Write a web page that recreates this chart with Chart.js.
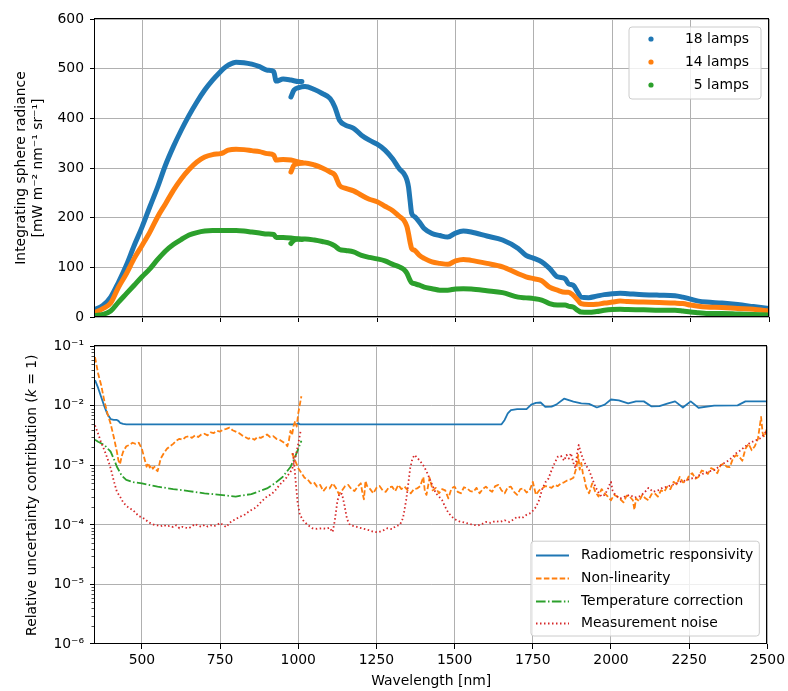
<!DOCTYPE html>
<html>
<head>
<meta charset="utf-8">
<title>Integrating sphere radiance and uncertainty budget</title>
<script src="https://cdn.jsdelivr.net/npm/chart.js@4.4.1/dist/chart.umd.min.js"></script>
<style>
  html, body { margin: 0; padding: 0; background: #fff; }
  #figure { position: relative; width: 788px; height: 691px; }
  .panel { position: absolute; left: 0; width: 788px; }
  #panelTop { top: 0; height: 332px; }
  #panelBottom { top: 332px; height: 359px; }
  canvas { display: block; }
</style>
</head>
<body>
<div id="figure">
  <div class="panel" id="panelTop"><canvas id="radianceChart" width="788" height="332"></canvas></div>
  <div class="panel" id="panelBottom"><canvas id="uncertaintyChart" width="788" height="359"></canvas></div>
</div>
<script>
/* ============================================================
   Sphere radiance for three lamp settings (top) and the
   relative uncertainty contributions (bottom), shared
   wavelength axis. VIS and SWIR detectors overlap near 1000 nm,
   so each of them is kept as its own segment.
   ============================================================ */

/* Axis ticks and labels */
var xTicks = [500, 750, 1000, 1250, 1500, 1750, 2000, 2250, 2500];
var logTicks = [1e-6, 1e-5, 1e-4, 1e-3, 1e-2, 1e-1];
var logTickLabels = ['10\u207B\u2076', '10\u207B\u2075', '10\u207B\u2074', '10\u207B\u00B3', '10\u207B\u00B2', '10\u207B\u00B9'];
var lampLabels = ['18 lamps', '14 lamps', '5 lamps'];
var contributionLabels = ['Radiometric responsivity', 'Non-linearity', 'Temperature correction', 'Measurement noise'];

/* Radiance, VIS detector [mW m-2 nm-1 sr-1] */
var visWl = [350, 375, 400, 425, 450, 475, 500, 525, 550, 575, 600, 625, 650, 675, 700,
  725, 750, 760, 775, 800, 825, 850, 875, 900, 920, 928, 950, 975, 1000, 1010];
var vis18 = [15, 23, 40, 70, 104, 144, 181, 222, 262, 306, 343, 376, 406, 433, 457,
  477, 494, 500, 507, 513, 512, 509, 504, 497, 494, 475, 479, 477, 474, 474];
var vis14 = [9, 17, 28, 60, 87, 118, 144, 171, 202, 228, 255, 278, 297, 312, 322,
  327, 329, 331, 336, 338, 337, 335, 333, 329, 326, 316, 317, 316, 312, 311];
var vis5 = [3, 5, 12, 30, 47, 64, 81, 97, 116, 133, 146, 156, 165, 170, 173,
  174, 174, 174, 174, 174, 173, 171, 169, 167, 166, 160, 160, 159, 157, 156];

/* Radiance, SWIR detector */
var swirWl = [975, 985, 1000, 1020, 1050, 1075, 1100, 1115, 1130, 1150,
  1175, 1200, 1225, 1250, 1275, 1300, 1320, 1335, 1345, 1350,
  1355, 1360, 1370, 1385, 1400, 1425, 1450, 1475, 1500, 1525,
  1550, 1600, 1650, 1700, 1725, 1750, 1775, 1800, 1825, 1850,
  1860, 1875, 1890, 1900, 1925, 1950, 1975, 2000, 2025, 2050,
  2100, 2150, 2200, 2225, 2250, 2275, 2300, 2350, 2400, 2450, 2500];
var swir18 = [443, 457, 462, 464, 458, 450, 440, 423, 396, 386,
  380, 366, 356, 348, 336, 318, 299, 289, 276, 262,
  235, 209, 202, 191, 178, 168, 164, 161, 169, 173,
  171, 163, 155, 138, 124, 118, 111, 98, 81, 77,
  67, 64, 50, 40, 39, 42, 45, 47, 48, 47,
  45, 44, 43, 40, 36, 32, 30, 28, 25, 21, 17];
var swir14 = [292, 306, 309, 310, 306, 300, 292, 286, 265, 259,
  254, 245, 237, 232, 223, 214, 203, 195, 182, 168,
  151, 138, 134, 124, 118, 111, 108, 106, 113, 116,
  114, 108, 101, 87, 81, 77, 73, 60, 54, 50,
  50, 44, 34, 27, 25, 25.5, 28, 30, 32, 31,
  30, 29, 28, 27, 24, 21.5, 20, 19, 17, 15.5, 12];
var swir5 = [148, 155, 157, 157, 155, 152, 148, 143, 136, 134,
  131, 124, 120, 117, 113, 106, 101, 96, 88, 81,
  74, 69, 67, 64, 60, 57, 54, 54, 56.5, 57,
  56.5, 53, 49, 40, 38.5, 37, 34, 27, 24, 24,
  22, 20, 13.5, 10, 9.5, 11, 13.5, 15, 15.5, 15,
  14.5, 13.5, 13.5, 12, 10, 8.5, 7, 7, 6, 5, 4];

/* Radiometric responsivity (relative, k = 1) */
var respWl = [350, 360, 370, 380, 390, 400, 410, 420, 425, 430, 440, 450, 600, 800, 995,
  1000, 1005, 1200, 1400, 1650, 1660, 1670, 1680, 1700, 1730, 1745, 1760, 1775, 1790, 1810,
  1825, 1850, 1880, 1905, 1930, 1955, 1980, 2000, 2025, 2055, 2080, 2105, 2130, 2155, 2180,
  2205, 2230, 2255, 2280, 2330, 2405, 2430, 2500];
var respVal = [0.027, 0.02, 0.014, 0.0098, 0.0072, 0.006, 0.0058, 0.0058, 0.0056, 0.0052, 0.005, 0.0049, 0.0049, 0.0049, 0.0049,
  0.0051, 0.0049, 0.0049, 0.0049, 0.0049, 0.0058, 0.0075, 0.0085, 0.0088, 0.0088, 0.0105, 0.0112, 0.0114, 0.0096, 0.0097,
  0.0105, 0.0132, 0.0118, 0.011, 0.0108, 0.0094, 0.0105, 0.0128, 0.0124, 0.011, 0.0119, 0.0119, 0.0098, 0.0099, 0.0109,
  0.0119, 0.0094, 0.0119, 0.0093, 0.0101, 0.0102, 0.0119, 0.0119];

/* Non-linearity, VIS and SWIR */
var nonlinVisWl = [350, 360, 370, 380, 390, 400, 410, 420, 425, 430,
  435, 440, 450, 460, 470, 480, 490, 500, 505, 510,
  515, 520, 525, 530, 535, 540, 545, 550, 555, 560,
  570, 580, 590, 600, 610, 620, 630, 640, 650, 660,
  670, 680, 690, 700, 710, 720, 730, 740, 750, 760,
  770, 780, 790, 800, 810, 820, 830, 840, 850, 860,
  870, 880, 890, 900, 910, 920, 930, 940, 950, 960,
  965, 970, 975, 980, 985, 990, 995, 1000, 1005, 1010];
var nonlinVisVal = [0.066, 0.035, 0.022, 0.012, 0.0074, 0.005, 0.003, 0.0017, 0.0012, 0.00105,
  0.0014, 0.0017, 0.0021, 0.0022, 0.0024, 0.0023, 0.0024, 0.0019, 0.0015, 0.0012,
  0.00095, 0.0011, 0.00092, 0.001, 0.00088, 0.00095, 0.00085, 0.0008, 0.001, 0.0013,
  0.0016, 0.0019, 0.0021, 0.0023, 0.0026, 0.0028, 0.0027, 0.003, 0.0031, 0.0029,
  0.0032, 0.003, 0.0033, 0.0034, 0.0032, 0.0036, 0.0035, 0.0038, 0.0037, 0.004,
  0.0041, 0.0043, 0.0039, 0.0037, 0.0035, 0.0032, 0.003, 0.0028, 0.0029, 0.0027,
  0.003, 0.0029, 0.0031, 0.0033, 0.003, 0.0031, 0.0028, 0.0027, 0.0025, 0.0023,
  0.0021, 0.0026, 0.0038, 0.0032, 0.0046, 0.0055, 0.0045, 0.0075, 0.0105, 0.0145];
var nonlinSwirWl = [980, 990, 1000, 1010, 1020, 1030, 1040, 1050, 1060, 1070,
  1080, 1090, 1100, 1110, 1120, 1130, 1140, 1150, 1160, 1170,
  1180, 1190, 1200, 1205, 1210, 1215, 1220, 1230, 1240, 1250,
  1260, 1270, 1280, 1290, 1300, 1310, 1320, 1330, 1340, 1350,
  1360, 1370, 1380, 1390, 1400, 1405, 1410, 1420, 1430, 1440,
  1450, 1460, 1470, 1480, 1490, 1500, 1510, 1520, 1530, 1540,
  1550, 1560, 1570, 1580, 1590, 1600, 1610, 1620, 1630, 1640,
  1650, 1660, 1670, 1680, 1690, 1700, 1710, 1720, 1730, 1740,
  1750, 1760, 1770, 1780, 1790, 1800, 1810, 1820, 1830, 1840,
  1850, 1860, 1870, 1880, 1890, 1895, 1900, 1905, 1910, 1915,
  1920, 1930, 1940, 1950, 1960, 1970, 1980, 1990, 2000, 2010,
  2020, 2030, 2040, 2050, 2060, 2070, 2075, 2080, 2090, 2100,
  2110, 2120, 2130, 2140, 2150, 2160, 2170, 2180, 2190, 2200,
  2210, 2220, 2230, 2240, 2250, 2260, 2270, 2280, 2290, 2300,
  2310, 2320, 2330, 2340, 2350, 2360, 2370, 2380, 2390, 2400,
  2410, 2420, 2430, 2440, 2450, 2460, 2470, 2480, 2485, 2490,
  2495, 2500];
var nonlinSwirVal = [0.0016, 0.0012, 0.0009, 0.00075, 0.00062, 0.00058, 0.0005, 0.00052, 0.00044, 0.00047,
  0.00037, 0.00043, 0.00041, 0.0005, 0.00042, 0.00033, 0.00038, 0.00045, 0.00047, 0.0004,
  0.00037, 0.00044, 0.0005, 0.00035, 0.00027, 0.00055, 0.00045, 0.0004, 0.00034, 0.00042,
  0.00045, 0.00038, 0.00036, 0.00043, 0.00044, 0.00037, 0.00047, 0.0004, 0.00044, 0.00038,
  0.00034, 0.0004, 0.00041, 0.00045, 0.00064, 0.00036, 0.00032, 0.00062, 0.00038, 0.00042,
  0.00034, 0.0004, 0.00038, 0.00028, 0.00041, 0.00044, 0.00036, 0.00034, 0.00043, 0.00041,
  0.00037, 0.00036, 0.00042, 0.00034, 0.0004, 0.00044, 0.00039, 0.00036, 0.00045, 0.00047,
  0.00038, 0.00034, 0.00043, 0.00044, 0.00036, 0.00032, 0.0004, 0.00041, 0.00035, 0.00038,
  0.00053, 0.00032, 0.00038, 0.00041, 0.00045, 0.00044, 0.00042, 0.00047, 0.00045, 0.0005,
  0.00052, 0.00056, 0.00058, 0.00062, 0.00094, 0.0015, 0.00085, 0.0011, 0.00074, 0.0006,
  0.00044, 0.00034, 0.0005, 0.00036, 0.0003, 0.0004, 0.00034, 0.0003, 0.00026, 0.00032,
  0.0003, 0.00027, 0.00024, 0.00031, 0.0003, 0.00026, 0.00018, 0.00028, 0.00025, 0.00032,
  0.00028, 0.00026, 0.00033, 0.00034, 0.0003, 0.00038, 0.00036, 0.00044, 0.0004, 0.00053,
  0.00048, 0.00064, 0.00052, 0.00053, 0.00068, 0.00074, 0.0006, 0.00064, 0.00082, 0.00078,
  0.00072, 0.0009, 0.00085, 0.00074, 0.001, 0.00108, 0.00095, 0.00094, 0.0013, 0.00149,
  0.0014, 0.0012, 0.0019, 0.0023, 0.0018, 0.0021, 0.0028, 0.0065, 0.0035, 0.003,
  0.0036, 0.0044];

/* Temperature correction (VIS only) */
var tempWl = [350, 360, 380, 400, 410, 420, 435, 450, 475, 500, 550, 600,
  650, 700, 750, 800, 850, 900, 925, 950, 975, 990, 1000, 1010];
var tempVal = [0.0027, 0.0025, 0.0022, 0.0017, 0.0013, 0.00095, 0.00068, 0.00057, 0.00052, 0.0005, 0.00044, 0.0004,
  0.00037, 0.00034, 0.00032, 0.0003, 0.00033, 0.00041, 0.0005, 0.00064, 0.00094, 0.0014, 0.0019, 0.0026];

/* Measurement noise, VIS and SWIR */
var noiseVisWl = [350, 360, 370, 380, 390, 400, 410, 420, 430, 440,
  450, 460, 470, 480, 490, 500, 510, 520, 530, 540,
  550, 560, 570, 580, 590, 600, 610, 620, 630, 640,
  650, 660, 670, 680, 690, 700, 710, 720, 730, 740,
  750, 760, 770, 780, 790, 800, 810, 820, 830, 840,
  850, 860, 870, 880, 890, 900, 910, 920, 930, 940,
  950, 960, 970, 980, 990, 1000, 1008];
var noiseVisVal = [0.0047, 0.0034, 0.0024, 0.0018, 0.0013, 0.0009, 0.00055, 0.00036, 0.0003, 0.00024,
  0.00021, 0.00019, 0.00018, 0.00016, 0.00014, 0.000135, 0.000125, 0.000112, 0.000105, 0.0001,
  0.000098, 0.000095, 0.0001, 0.000094, 0.000097, 0.000092, 0.000099, 0.000088, 0.000093, 0.00009,
  0.000088, 0.000095, 0.000104, 0.000097, 0.000093, 0.0001, 0.000094, 0.000098, 0.000095, 0.0001,
  0.000108, 0.000099, 0.000092, 0.000108, 0.000118, 0.000125, 0.000135, 0.000142, 0.00015, 0.000165,
  0.000178, 0.00019, 0.00021, 0.00024, 0.00027, 0.0003, 0.00032, 0.00035, 0.0004, 0.00047,
  0.00053, 0.0006, 0.00072, 0.00085, 0.0013, 0.0023, 0.0039];
var noiseSwirWl = [983, 988, 993, 998, 1005, 1015, 1030, 1045, 1060, 1075,
  1090, 1100, 1110, 1117, 1125, 1132, 1140, 1148, 1156, 1165,
  1180, 1195, 1210, 1225, 1240, 1255, 1270, 1285, 1300, 1312,
  1325, 1335, 1345, 1352, 1358, 1365, 1372, 1380, 1390, 1400,
  1410, 1420, 1430, 1440, 1450, 1460, 1470, 1480, 1490, 1500,
  1515, 1530, 1545, 1560, 1575, 1590, 1600, 1615, 1630, 1645,
  1660, 1675, 1690, 1700, 1715, 1730, 1745, 1760, 1770, 1780,
  1790, 1800, 1810, 1820, 1830, 1840, 1850, 1858, 1865, 1872,
  1880, 1886, 1892, 1897, 1904, 1910, 1920, 1930, 1940, 1950,
  1960, 1970, 1980, 1990, 1996, 2000, 2005, 2015, 2030, 2045,
  2060, 2075, 2090, 2105, 2120, 2135, 2150, 2165, 2180, 2195,
  2210, 2225, 2240, 2255, 2270, 2285, 2300, 2315, 2330, 2345,
  2360, 2375, 2390, 2400, 2415, 2430, 2445, 2460, 2475, 2485,
  2492, 2500];
var noiseSwirVal = [0.0016, 0.0009, 0.00045, 0.00024, 0.00015, 0.00012, 0.0001, 0.000088, 0.000086, 0.000088,
  0.000086, 0.00009, 0.000076, 0.00012, 0.00025, 0.00034, 0.00033, 0.00021, 0.000125, 0.0001,
  0.000095, 0.00009, 0.000086, 0.000082, 0.000077, 0.000075, 0.00008, 0.000088, 0.000085, 0.000096,
  0.0001, 0.00013, 0.00026, 0.0005, 0.0009, 0.0013, 0.0015, 0.00135, 0.00118, 0.001,
  0.0008, 0.0006, 0.00045, 0.00034, 0.0003, 0.00026, 0.0002, 0.00016, 0.00014, 0.000125,
  0.000115, 0.00011, 0.000105, 0.0001, 0.000098, 0.000105, 0.000112, 0.000108, 0.000116, 0.000112,
  0.00012, 0.000112, 0.000125, 0.000137, 0.00013, 0.000148, 0.00016, 0.0002, 0.00026, 0.0004,
  0.00052, 0.0006, 0.00083, 0.0011, 0.0014, 0.00145, 0.0012, 0.0015, 0.0013, 0.0016,
  0.0011, 0.0009, 0.0016, 0.0022, 0.0016, 0.0013, 0.001, 0.00083, 0.0006, 0.00044,
  0.00035, 0.0003, 0.00032, 0.0004, 0.00048, 0.00053, 0.00038, 0.00031, 0.00028, 0.0003,
  0.00032, 0.00029, 0.0003, 0.00034, 0.00042, 0.00036, 0.00038, 0.00042, 0.00044, 0.00047,
  0.0005, 0.00054, 0.00056, 0.0006, 0.00062, 0.0007, 0.00074, 0.0008, 0.00083, 0.00095,
  0.00108, 0.0012, 0.0014, 0.0016, 0.0018, 0.0021, 0.0024, 0.0026, 0.0028, 0.0031,
  0.0035, 0.0039];

(function () {
  'use strict';

  /* tab10 colours */
  var BLUE = '#1f77b4';
  var ORANGE = '#ff7f0e';
  var GREEN = '#2ca02c';
  var RED = '#d62728';
  var GRID = '#b0b0b0';
  var FAMILY = "'DejaVu Sans', sans-serif";
  var SIZE = 13.9;
  var FONT = { family: FAMILY, size: SIZE };

  Chart.defaults.color = '#000';
  Chart.defaults.font.family = FAMILY;

  function pairs(xs, ys) {
    var out = [];
    for (var i = 0; i < xs.length && i < ys.length; i++) { out.push({ x: xs[i], y: ys[i] }); }
    return out;
  }

  /* ------------------------------------------------------------
     Frame, minor log ticks, legends and the mixed-style y title
     ------------------------------------------------------------ */
  function roundedBox(ctx, x, y, w, h, r) {
    ctx.beginPath();
    ctx.moveTo(x + r, y);
    ctx.arcTo(x + w, y, x + w, y + h, r);
    ctx.arcTo(x + w, y + h, x, y + h, r);
    ctx.arcTo(x, y + h, x, y, r);
    ctx.arcTo(x, y, x + w, y, r);
    ctx.closePath();
  }

  function drawLegendFrame(ctx, x, y, w, h) {
    roundedBox(ctx, x, y, w, h, 3);
    ctx.fillStyle = 'rgba(255,255,255,0.8)';
    ctx.fill();
    ctx.strokeStyle = '#cccccc';
    ctx.lineWidth = 1;
    ctx.stroke();
  }

  var figurePlugin = {
    id: 'figure',
    afterDatasetsDraw: function (chart) {
      var o = chart.options.plugins.figure || {};
      var a = chart.chartArea;
      var ctx = chart.ctx;
      ctx.save();

      /* axes frame on all four sides */
      var l = Math.round(a.left) - 0.5, t = Math.round(a.top) - 0.5;
      var r = Math.round(a.right) - 0.5, b = Math.round(a.bottom) - 0.5;
      ctx.strokeStyle = '#000';
      ctx.lineWidth = 1;
      ctx.strokeRect(l, t, r - l, b - t);

      /* minor ticks on the log axis */
      if (o.minorTicks) {
        var ys = chart.scales.y;
        ctx.lineWidth = 0.7;
        ctx.beginPath();
        for (var m = 0; m < o.minorTicks.length; m++) {
          var py = Math.round(ys.getPixelForValue(o.minorTicks[m])) + 0.5;
          ctx.moveTo(l, py);
          ctx.lineTo(l - 3, py);
        }
        ctx.stroke();
      }

      ctx.font = SIZE + 'px ' + FAMILY;
      ctx.textBaseline = 'middle';

      /* dot legend in the upper right corner */
      if (o.dotLegend) {
        var dl = o.dotLegend;
        var rowH = 23;
        var bw = 132, bh = rowH * dl.labels.length + 3;
        var bx = a.right - 8 - bw, by = a.top + 8;
        drawLegendFrame(ctx, bx, by, bw, bh);
        for (var i = 0; i < dl.labels.length; i++) {
          var cy = by + 12 + i * rowH;
          ctx.fillStyle = dl.colors[i];
          ctx.beginPath();
          ctx.arc(bx + 22, cy, 2.6, 0, Math.PI * 2);
          ctx.fill();
          ctx.fillStyle = '#000';
          ctx.textAlign = 'right';
          ctx.fillText(dl.labels[i], bx + bw - 12, cy);
        }
      }

      /* line legend in the lower right corner */
      if (o.lineLegend) {
        var ll = o.lineLegend;
        var rowL = 22.7;
        var widest = 0;
        for (var k = 0; k < ll.labels.length; k++) {
          widest = Math.max(widest, ctx.measureText(ll.labels[k]).width);
        }
        var lw = 50 + widest + 6, lh = rowL * ll.labels.length + 4;
        var lx = a.right - 8 - lw, ly = a.bottom - 8 - lh;
        drawLegendFrame(ctx, lx, ly, lw, lh);
        for (var j = 0; j < ll.labels.length; j++) {
          var yy = Math.round(ly + 14 + j * rowL) + 0.5;
          ctx.strokeStyle = ll.colors[j];
          ctx.lineWidth = 1.8;
          ctx.setLineDash(ll.dashes[j]);
          ctx.beginPath();
          ctx.moveTo(lx + 5, yy);
          ctx.lineTo(lx + 38, yy);
          ctx.stroke();
          ctx.setLineDash([]);
          ctx.fillStyle = '#000';
          ctx.textAlign = 'left';
          ctx.fillText(ll.labels[j], lx + 50, yy);
        }
      }

      /* y title with an italic k */
      if (o.yTitle) {
        var parts = o.yTitle;
        var fonts = [], widths = [], total = 0;
        for (var p = 0; p < parts.length; p++) {
          fonts[p] = (parts[p].italic ? 'italic ' : '') + SIZE + 'px ' + FAMILY;
          ctx.font = fonts[p];
          widths[p] = ctx.measureText(parts[p].text).width;
          total += widths[p];
        }
        ctx.translate(o.yTitleX, (a.top + a.bottom) / 2);
        ctx.rotate(-Math.PI / 2);
        ctx.fillStyle = '#000';
        ctx.textAlign = 'left';
        var cx = -total / 2;
        for (var q = 0; q < parts.length; q++) {
          ctx.font = fonts[q];
          ctx.fillText(parts[q].text, cx, 0);
          cx += widths[q];
        }
      }
      ctx.restore();
    }
  };

  function xAxis(height, withLabels) {
    return {
      type: 'linear',
      min: 350,
      max: 2500,
      afterBuildTicks: function (s) { s.ticks = xTicks.map(function (v) { return { value: v }; }); },
      afterFit: function (s) { s.height = height; },
      grid: { color: GRID, lineWidth: 1, tickColor: '#000', tickLength: 5, tickWidth: 1 },
      border: { display: false },
      ticks: {
        display: withLabels,
        font: FONT,
        padding: 3,
        maxRotation: 0,
        autoSkip: false,
        callback: function (value) { return String(value); }
      },
      title: withLabels ? { display: true, text: 'Wavelength [nm]', font: FONT, padding: { top: 0, bottom: 1 } } : { display: false }
    };
  }

  var baseOptions = {
    responsive: false,
    animation: false,
    events: [],
    plugins: { legend: { display: false }, tooltip: { enabled: false } }
  };

  function withBase(extra) {
    var o = JSON.parse(JSON.stringify(baseOptions));
    for (var key in extra) {
      if (Object.prototype.hasOwnProperty.call(extra, key)) {
        if (key === 'plugins') {
          for (var sub in extra.plugins) { o.plugins[sub] = extra.plugins[sub]; }
        } else {
          o[key] = extra[key];
        }
      }
    }
    return o;
  }

  /* ------------------------------------------------------------
     TOP PANEL: radiance for 18, 14 and 5 lamps
     ------------------------------------------------------------ */
  function radianceSet(data, color, order) {
    return {
      data: data,
      showLine: true,
      borderColor: color,
      backgroundColor: color,
      borderWidth: 5,
      borderCapStyle: 'round',
      borderJoinStyle: 'round',
      cubicInterpolationMode: 'monotone',
      pointRadius: 0,
      order: order
    };
  }

  new Chart(document.getElementById('radianceChart'), {
    type: 'scatter',
    data: {
      datasets: [
        radianceSet(pairs(visWl, vis18), BLUE, 3),
        radianceSet(pairs(swirWl, swir18), BLUE, 3),
        radianceSet(pairs(visWl, vis14), ORANGE, 2),
        radianceSet(pairs(swirWl, swir14), ORANGE, 2),
        radianceSet(pairs(visWl, vis5), GREEN, 1),
        radianceSet(pairs(swirWl, swir5), GREEN, 1)
      ]
    },
    plugins: [figurePlugin],
    options: withBase({
      layout: { padding: { top: 19, right: 19, bottom: 0, left: 0 } },
      scales: {
        x: xAxis(15, false),
        y: {
          min: 0,
          max: 600,
          afterFit: function (s) { s.width = 95; },
          grid: { color: GRID, lineWidth: 1, tickColor: '#000', tickLength: 5, tickWidth: 1 },
          border: { display: false },
          ticks: { stepSize: 100, font: FONT, padding: 6 },
          title: {
            display: true,
            text: ['Integrating sphere radiance', '[mW m\u207B\u00B2 nm\u207B\u00B9 sr\u207B\u00B9]'],
            font: FONT,
            padding: { top: 13, bottom: 0 }
          }
        }
      },
      plugins: {
        figure: { dotLegend: { labels: lampLabels, colors: [BLUE, ORANGE, GREEN] } }
      }
    })
  });

  /* ------------------------------------------------------------
     BOTTOM PANEL: relative uncertainty contributions (log)
     ------------------------------------------------------------ */
  var DASHED = [5.5, 2.4];
  var DASHDOT = [9.6, 2.4, 1.5, 2.4];
  var DOTTED = [1.5, 2.5];

  function contributionSet(data, color, dash, order) {
    return {
      data: data,
      showLine: true,
      borderColor: color,
      backgroundColor: color,
      borderWidth: 1.8,
      borderDash: dash,
      borderCapStyle: 'butt',
      borderJoinStyle: 'round',
      pointRadius: 0,
      order: order
    };
  }

  var minorTicks = [];
  for (var d = 1e-6; d < 0.05; d *= 10) {
    for (var f = 2; f <= 9; f++) { minorTicks.push(d * f); }
  }

  new Chart(document.getElementById('uncertaintyChart'), {
    type: 'scatter',
    data: {
      datasets: [
        contributionSet(pairs(respWl, respVal), BLUE, [], 4),
        contributionSet(pairs(nonlinVisWl, nonlinVisVal), ORANGE, DASHED, 3),
        contributionSet(pairs(nonlinSwirWl, nonlinSwirVal), ORANGE, DASHED, 3),
        contributionSet(pairs(tempWl, tempVal), GREEN, DASHDOT, 2),
        contributionSet(pairs(noiseVisWl, noiseVisVal), RED, DOTTED, 1),
        contributionSet(pairs(noiseSwirWl, noiseSwirVal), RED, DOTTED, 1)
      ]
    },
    plugins: [figurePlugin],
    options: withBase({
      layout: { padding: { top: 14, right: 19, bottom: 0, left: 0 } },
      scales: {
        x: xAxis(47, true),
        y: {
          type: 'logarithmic',
          min: 1e-6,
          max: 1e-1,
          afterBuildTicks: function (s) { s.ticks = logTicks.map(function (v) { return { value: v, major: true }; }); },
          afterFit: function (s) { s.width = 95; },
          grid: { color: GRID, lineWidth: 1, tickColor: '#000', tickLength: 5, tickWidth: 1 },
          border: { display: false },
          ticks: {
            font: FONT,
            padding: 6,
            autoSkip: false,
            callback: function (value, index) { return logTickLabels[index]; }
          },
          title: { display: false }
        }
      },
      plugins: {
        figure: {
          minorTicks: minorTicks,
          lineLegend: {
            labels: contributionLabels,
            colors: [BLUE, ORANGE, GREEN, RED],
            dashes: [[], DASHED, DASHDOT, DOTTED]
          },
          yTitleX: 32,
          yTitle: [
            { text: 'Relative uncertainty contribution (' },
            { text: 'k', italic: true },
            { text: ' = 1)' }
          ]
        }
      }
    })
  });

})();
</script>
</body>
</html>
